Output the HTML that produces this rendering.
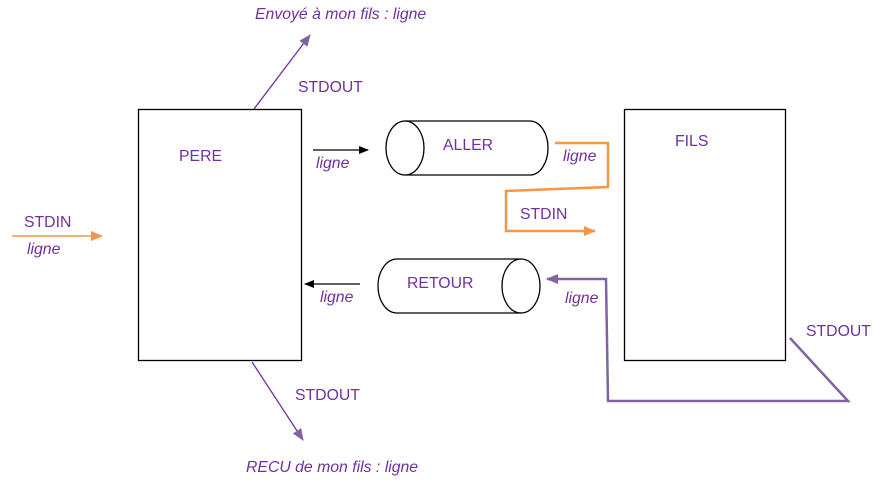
<!DOCTYPE html>
<html><head><meta charset="utf-8"><style>
body{margin:0;background:#fff}
svg text{font-family:"Liberation Sans",sans-serif;font-size:15.8px;fill:#7030a0}
.i{font-style:italic}
</style></head><body>
<svg width="878" height="483" viewBox="0 0 878 483" xmlns="http://www.w3.org/2000/svg">
<defs>
<marker id="ab" markerWidth="10" markerHeight="10" refX="9" refY="5" orient="auto" markerUnits="userSpaceOnUse"><path d="M0,1 L10,5 L0,9z" fill="#000"/></marker>
<marker id="ao" markerWidth="12" markerHeight="12" refX="11" refY="6" orient="auto" markerUnits="userSpaceOnUse"><path d="M0,1 L12,6 L0,11z" fill="#f79646"/></marker>
<marker id="ap" markerWidth="12" markerHeight="12" refX="11" refY="6" orient="auto" markerUnits="userSpaceOnUse"><path d="M0,1 L12,6 L0,11z" fill="#8064a2"/></marker>
</defs>
<rect x="138.5" y="109.5" width="163" height="251" fill="none" stroke="#000" stroke-width="1.3"/>
<rect x="624.5" y="109.5" width="161" height="251" fill="none" stroke="#000" stroke-width="1.3"/>
<path d="M405,121 L530,121 A18,27 0 0 1 530,175 L405,175" fill="none" stroke="#000" stroke-width="1.3"/>
<ellipse cx="405" cy="148" rx="19" ry="27" fill="none" stroke="#000" stroke-width="1.3"/>
<path d="M521,259 L397,259 A19,27 0 0 0 397,313 L521,313" fill="none" stroke="#000" stroke-width="1.3"/>
<ellipse cx="521" cy="286" rx="19" ry="27" fill="none" stroke="#000" stroke-width="1.3"/>
<line x1="313" y1="150" x2="368" y2="150" stroke="#000" stroke-width="1.3" marker-end="url(#ab)"/>
<line x1="360" y1="284" x2="305" y2="284" stroke="#000" stroke-width="1.3" marker-end="url(#ab)"/>
<line x1="12" y1="236" x2="102" y2="236" stroke="#f79646" stroke-width="1.5" marker-end="url(#ao)"/>
<polyline points="555,143 608,143 608,187 506,191 506,231 595,231" fill="none" stroke="#f79646" stroke-width="2.5" marker-end="url(#ao)"/>
<polyline points="790,338 848,401 608,401 606,279 547,279" fill="none" stroke="#8064a2" stroke-width="2.5" marker-end="url(#ap)"/>
<line x1="254" y1="109" x2="310" y2="35" stroke="#7030a0" stroke-width="1.3" marker-end="url(#ap)"/>
<line x1="252" y1="362" x2="303" y2="440" stroke="#7030a0" stroke-width="1.3" marker-end="url(#ap)"/>
<text x="255" y="19" class="i">Envoyé à mon fils : ligne</text>
<text x="298" y="92">STDOUT</text>
<text x="179" y="161">PERE</text>
<text x="316" y="168" class="i">ligne</text>
<text x="443" y="150">ALLER</text>
<text x="563" y="161" class="i">ligne</text>
<text x="675" y="146">FILS</text>
<text x="520" y="219">STDIN</text>
<text x="24" y="227">STDIN</text>
<text x="27" y="254" class="i">ligne</text>
<text x="407" y="288">RETOUR</text>
<text x="320" y="302" class="i">ligne</text>
<text x="565" y="303" class="i">ligne</text>
<text x="806" y="336">STDOUT</text>
<text x="295" y="400">STDOUT</text>
<text x="246" y="472" class="i">RECU de mon fils : ligne</text>
</svg>
</body></html>
